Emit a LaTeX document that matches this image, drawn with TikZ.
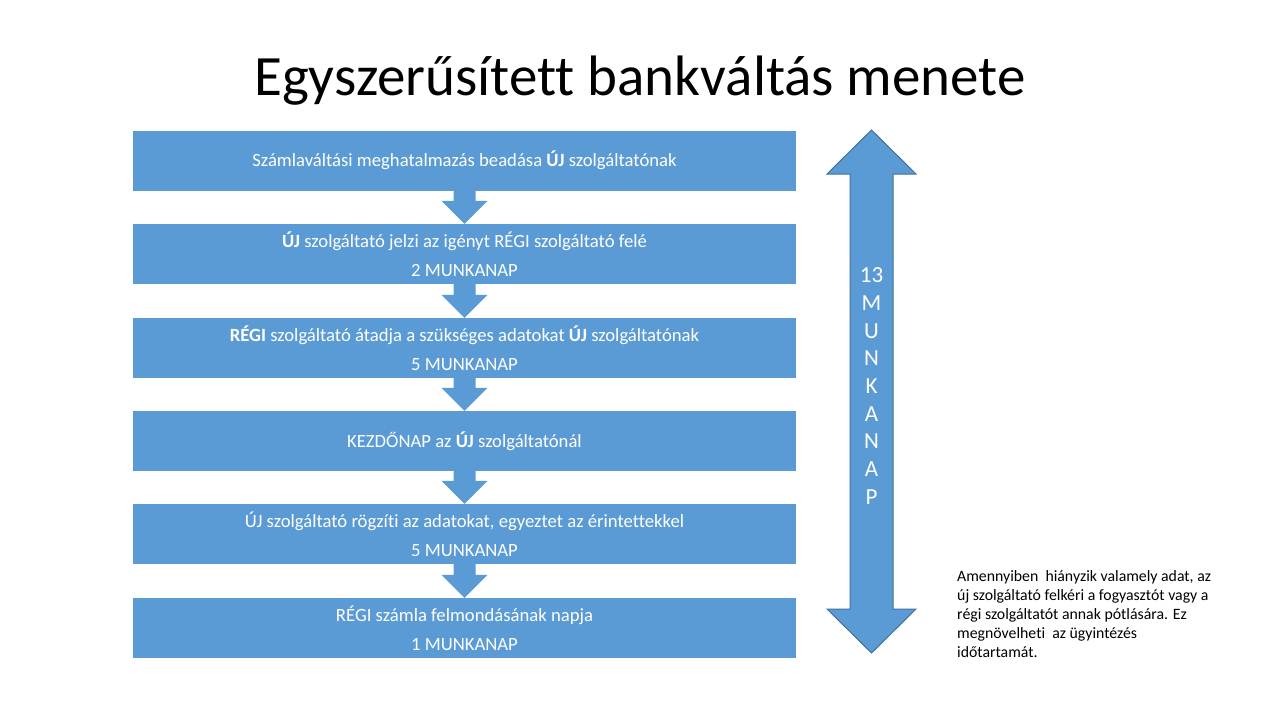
\documentclass[tikz,border=0pt]{standalone}
\usepackage{fontspec}
\setmainfont[Ligatures=NoCommon]{Carlito}
\usetikzlibrary{calc}
\definecolor{boxblue}{HTML}{5B9BD5}
\definecolor{edgeblue}{HTML}{41719C}
\tikzset{
  box/.style={fill=boxblue, draw=none, minimum width=663pt, minimum height=60pt, inner sep=0pt,
    text=white, align=center, font=\fontsize{18.67}{29}\selectfont},
  flow/.style={fill=boxblue, draw=none},
  bigarrow/.style={fill=boxblue, draw=edgeblue, line width=1pt, line join=miter},
}
\newcommand{\flowarrow}[2]{%
  \fill[flow] ($(#1.south)+(-11,0)$) -- ($(#2.north)+(-11,-23)$) -- ($(#2.north)+(-23,-23)$)
    -- (#2.north) -- ($(#2.north)+(23,-23)$) -- ($(#2.north)+(11,-23)$)
    -- ($(#1.south)+(11,0)$) -- cycle;}
\begin{document}
\begin{tikzpicture}[x=1pt,y=-1pt]
\useasboundingbox (0,0) rectangle (1280,720);
\fill[white] (0,0) rectangle (1280,720);

\node[anchor=base, font=\fontsize{57}{68}\selectfont] (title) at (640,95) {Egyszerűsített bankváltás menete};

\node[box] (b1) at (464.5,160.5) {Számlaváltási meghatalmazás beadása \textbf{ÚJ} szolgáltatónak};
\node[box] (b2) at (464.5,254) {\textbf{ÚJ} szolgáltató jelzi az igényt RÉGI szolgáltató felé\\2 MUNKANAP};
\node[box] (b3) at (464.5,348) {\textbf{RÉGI} szolgáltató átadja a szükséges adatokat \textbf{ÚJ} szolgáltatónak\\5 MUNKANAP};
\node[box] (b4) at (464.5,441) {KEZDŐNAP az \textbf{ÚJ} szolgáltatónál};
\node[box] (b5) at (464.5,534) {ÚJ szolgáltató rögzíti az adatokat, egyeztet az érintettekkel\\5 MUNKANAP};
\node[box] (b6) at (464.5,628) {RÉGI számla felmondásának napja\\1 MUNKANAP};

\flowarrow{b1}{b2}
\flowarrow{b2}{b3}
\flowarrow{b3}{b4}
\flowarrow{b4}{b5}
\flowarrow{b5}{b6}

\coordinate (top) at (871.5,130);
\coordinate (bot) at (871.5,653);
\draw[bigarrow] (top) -- ($(top)+(44.5,44)$) -- ($(top)+(21.5,44)$) -- ($(bot)+(21.5,-44)$)
  -- ($(bot)+(44.5,-44)$) -- (bot) -- ($(bot)+(-44.5,-44)$) -- ($(bot)+(-21.5,-44)$)
  -- ($(top)+(-21.5,44)$) -- ($(top)+(-44.5,44)$) -- cycle;
\node[text=white, align=center, font=\fontsize{23}{27.7}\selectfont] (days) at (871.5,386)
  {13\\M\\U\\N\\K\\A\\N\\A\\P};

\node[anchor=north west, align=left, inner sep=0pt, font=\fontsize{15.8}{19}\selectfont] (note) at (957,570)
  {Amennyiben\ \ hiányzik valamely adat, az\\új szolgáltató felkéri a fogyasztót vagy a\\régi szolgáltatót annak pótlására. Ez\\megnövelheti\ \ az ügyintézés\\időtartamát.};
\end{tikzpicture}
\end{document}
